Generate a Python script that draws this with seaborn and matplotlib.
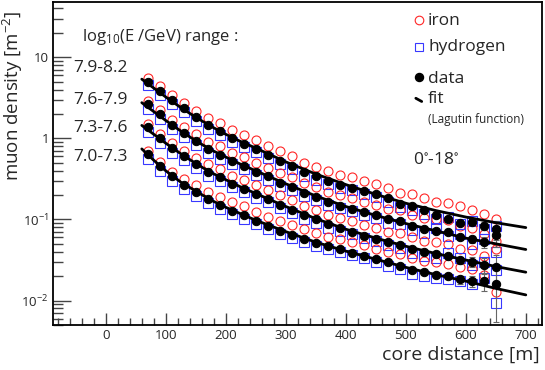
import numpy as np
import matplotlib
matplotlib.use("Agg")
import matplotlib.pyplot as plt
import seaborn as sns
from matplotlib.ticker import MultipleLocator, LogLocator, FixedLocator, FixedFormatter, NullFormatter

# === DONNEES (log10 de la densite de muons [m^-2]) ===
distance = [70, 90, 110, 130, 150, 170, 190, 210, 230, 250, 270, 290, 310, 330, 350,
            370, 390, 410, 430, 450, 470, 490, 510, 530, 550, 570, 590, 610, 630, 650]

log_data_79 = [0.70, 0.58, 0.47, 0.37, 0.26, 0.16, 0.09, 0.00, -0.07, -0.13, -0.20, -0.28, -0.34, -0.42, -0.47,
               -0.52, -0.58, -0.61, -0.65, -0.69, -0.74, -0.81, -0.83, -0.88, -0.95, -0.99, -1.04, -1.03, -1.08, -1.12]
log_iron_79 = [0.74, 0.64, 0.53, 0.44, 0.34, 0.25, 0.19, 0.10, 0.04, -0.02, -0.09, -0.16, -0.22, -0.30, -0.35,
               -0.40, -0.45, -0.48, -0.52, -0.56, -0.61, -0.67, -0.69, -0.74, -0.78, -0.80, -0.84, -0.88, -0.93, -1.00]
log_hydr_79 = [0.66, 0.54, 0.42, 0.32, 0.21, 0.11, 0.04, -0.04, -0.11, -0.17, -0.24, -0.32, -0.38, -0.46, -0.51,
               -0.56, -0.61, -0.64, -0.68, -0.72, -0.78, -0.85, -0.88, -0.93, -0.99, -0.97, -1.06, -1.02, -1.12, -1.08]

log_data_76 = [0.42, 0.30, 0.17, 0.07, -0.03, -0.13, -0.20, -0.28, -0.34, -0.41, -0.47, -0.55, -0.60, -0.67, -0.72,
               -0.78, -0.83, -0.87, -0.91, -0.95, -1.00, -1.02, -1.08, -1.12, -1.14, -1.16, -1.22, -1.24, -1.28, -1.19]
log_iron_76 = [0.46, 0.35, 0.23, 0.14, 0.05, -0.04, -0.10, -0.18, -0.23, -0.30, -0.36, -0.43, -0.48, -0.55, -0.60,
               -0.66, -0.70, -0.74, -0.78, -0.82, -0.87, -0.88, -0.94, -0.98, -0.99, -1.01, -1.08, -1.10, -1.18, -1.27]
log_hydr_76 = [0.36, 0.24, 0.11, 0.02, -0.08, -0.18, -0.25, -0.32, -0.38, -0.45, -0.51, -0.59, -0.64, -0.71, -0.76,
               -0.82, -0.86, -0.90, -0.94, -0.98, -1.04, -1.06, -1.13, -1.17, -1.10, -1.20, -1.18, -1.30, -1.24, -1.40]

log_data_73 = [0.14, 0.00, -0.12, -0.22, -0.32, -0.41, -0.48, -0.56, -0.62, -0.69, -0.75, -0.82, -0.88, -0.95, -1.00,
               -1.06, -1.11, -1.15, -1.20, -1.24, -1.28, -1.31, -1.36, -1.40, -1.43, -1.45, -1.50, -1.52, -1.56, -1.58]
log_iron_73 = [0.18, 0.05, -0.06, -0.15, -0.24, -0.32, -0.38, -0.46, -0.51, -0.58, -0.64, -0.70, -0.76, -0.83, -0.88,
               -0.94, -0.98, -1.02, -1.07, -1.11, -1.15, -1.17, -1.22, -1.26, -1.28, -1.30, -1.36, -1.38, -1.45, -1.37]
log_hydr_73 = [0.08, -0.06, -0.18, -0.27, -0.37, -0.46, -0.53, -0.60, -0.66, -0.73, -0.79, -0.86, -0.92, -0.99, -1.04,
               -1.10, -1.14, -1.18, -1.23, -1.27, -1.32, -1.35, -1.41, -1.45, -1.47, -1.41, -1.48, -1.56, -1.53, -1.62]

log_data_70 = [-0.19, -0.34, -0.47, -0.57, -0.66, -0.75, -0.82, -0.89, -0.95, -1.02, -1.08, -1.14, -1.19, -1.24, -1.29,
               -1.33, -1.37, -1.41, -1.45, -1.49, -1.53, -1.57, -1.62, -1.65, -1.68, -1.70, -1.74, -1.76, -1.76, -1.79]
log_iron_70 = [-0.15, -0.29, -0.41, -0.50, -0.58, -0.66, -0.72, -0.79, -0.84, -0.91, -0.97, -1.02, -1.07, -1.12, -1.17,
               -1.21, -1.24, -1.28, -1.32, -1.36, -1.40, -1.43, -1.48, -1.51, -1.53, -1.55, -1.59, -1.61, -1.68, -1.90]
log_hydr_70 = [-0.25, -0.40, -0.53, -0.62, -0.71, -0.80, -0.87, -0.93, -0.99, -1.06, -1.12, -1.18, -1.23, -1.28, -1.33,
               -1.36, -1.40, -1.44, -1.48, -1.52, -1.57, -1.61, -1.67, -1.70, -1.72, -1.73, -1.76, -1.79, -1.72, -2.03]

# courbes d'ajustement (fonction de Lagutin), log10
fit_distance = [60, 80, 100, 125, 150, 175, 200, 225, 250, 300, 350, 400, 450, 500, 550, 600, 650, 700]
fit_79 = [0.73, 0.62, 0.51, 0.38, 0.26, 0.15, 0.05, -0.04, -0.12, -0.29, -0.44, -0.57, -0.69, -0.80, -0.89, -0.97, -1.04, -1.10]
fit_76 = [0.44, 0.33, 0.22, 0.09, -0.03, -0.14, -0.23, -0.32, -0.40, -0.56, -0.71, -0.84, -0.95, -1.05, -1.14, -1.23, -1.30, -1.37]
fit_73 = [0.16, 0.05, -0.06, -0.19, -0.31, -0.42, -0.51, -0.60, -0.68, -0.84, -0.99, -1.12, -1.23, -1.33, -1.42, -1.50, -1.58, -1.65]
fit_70 = [-0.13, -0.27, -0.40, -0.54, -0.65, -0.76, -0.85, -0.93, -1.01, -1.15, -1.28, -1.39, -1.49, -1.59, -1.68, -1.76, -1.85, -1.93]

# erreurs relatives des derniers points
err_distance = [590, 610, 630, 650]
rel_err_79 = [0.06, 0.08, 0.12, 0.26]
rel_err_76 = [0.08, 0.10, 0.16, 0.30]
rel_err_73 = [0.10, 0.13, 0.20, 0.40]
rel_err_70 = [0.12, 0.16, 0.24, 0.66]

energy_labels = ["7.9-8.2", "7.6-7.9", "7.3-7.6", "7.0-7.3"]
series = [
    (log_data_79, log_iron_79, log_hydr_79, fit_79, rel_err_79),
    (log_data_76, log_iron_76, log_hydr_76, fit_76, rel_err_76),
    (log_data_73, log_iron_73, log_hydr_73, fit_73, rel_err_73),
    (log_data_70, log_iron_70, log_hydr_70, fit_70, rel_err_70),
]

RED = "#ff2626"
BLUE = "#3838ff"

# === FIGURE ===
sns.set_style("ticks")
plt.rcParams["font.family"] = ["Open Sans", "DejaVu Sans"]
plt.rcParams["mathtext.default"] = "regular"

fig = plt.figure(figsize=(5.45, 3.70), dpi=100)
ax = fig.add_axes([53 / 545, 45 / 370, 489 / 545, 323 / 370])
ax.set_yscale("log")

for d, fe, h, fit, err in series:
    dens = 10 ** np.array(d)
    sns.lineplot(x=distance, y=10 ** np.array(fe), ax=ax, color=RED, marker="o", linestyle="",
                 markerfacecolor="none", markeredgecolor=RED, markersize=6.5, markeredgewidth=0.8,
                 errorbar=None, zorder=2)
    sns.lineplot(x=distance, y=10 ** np.array(h), ax=ax, color=BLUE, marker="s", linestyle="",
                 markerfacecolor="none", markeredgecolor=BLUE, markersize=6.6, markeredgewidth=0.8,
                 errorbar=None, zorder=2)
    tail = dens[-len(err_distance):]
    ax.errorbar(err_distance, tail, yerr=tail * np.array(err), fmt="none", ecolor="#666666",
                elinewidth=0.8, capsize=2, capthick=0.8, zorder=2.5)
    sns.lineplot(x=fit_distance, y=10 ** np.array(fit), ax=ax, color="black", linewidth=2.0,
                 errorbar=None, zorder=3)
    sns.lineplot(x=distance, y=dens, ax=ax, color="black", marker="o", linestyle="",
                 markerfacecolor="black", markeredgecolor="black", markersize=6.0,
                 errorbar=None, zorder=4)

ax.set_xlim(-88, 727)
ax.set_ylim(0.005, 48)

# axes style (ROOT-like)
for sp in ax.spines.values():
    sp.set_linewidth(1.3)
    sp.set_color("black")
ax.xaxis.set_major_locator(MultipleLocator(100))
ax.xaxis.set_minor_locator(MultipleLocator(20))
ax.yaxis.set_major_locator(FixedLocator([0.01, 0.1, 1, 10]))
ax.yaxis.set_major_formatter(FixedFormatter(["$10^{-2}$", "$10^{-1}$", "1", "10"]))
ax.yaxis.set_minor_locator(LogLocator(base=10, subs=np.arange(2, 10)))
ax.yaxis.set_minor_formatter(NullFormatter())
ax.tick_params(axis="both", which="both", direction="in", top=False, right=False,
               color="#444444", width=1.0, labelsize=9.5, pad=3)
ax.tick_params(axis="x", which="major", length=9)
ax.tick_params(axis="x", which="minor", length=5)
ax.tick_params(axis="y", which="major", length=13)
ax.tick_params(axis="y", which="minor", length=7)

ax.set_ylabel("muon density [m$^{-2}$]", fontsize=13.5)
ax.yaxis.set_label_coords(-0.057, 0.71)
ax.set_xlabel("core distance [m]", fontsize=14, ha="right", va="center")
ax.xaxis.set_label_coords(0.996, -0.093)

# texte energie
ax.text(0.059, 0.892, "log$_{10}$(E /GeV) range :", transform=ax.transAxes, fontsize=12,
        ha="left", va="center")
for lab, fy in zip(energy_labels, [0.796, 0.697, 0.610, 0.520]):
    ax.text(0.041, fy, lab, transform=ax.transAxes, fontsize=12.5, ha="left", va="center")

# legende
kx, tx = 0.748, 0.767
ax.plot([kx], [0.944], transform=ax.transAxes, marker="o", mfc="none", mec=RED, ms=6.2, mew=0.8)
ax.text(tx, 0.940, "iron", transform=ax.transAxes, fontsize=12.5, va="center")
ax.plot([kx], [0.861], transform=ax.transAxes, marker="s", mfc="none", mec=BLUE, ms=6.4, mew=0.8)
ax.text(tx, 0.861, "hydrogen", transform=ax.transAxes, fontsize=12.5, va="center")
ax.plot([kx], [0.768], transform=ax.transAxes, marker="o", mfc="black", mec="black", ms=5.8)
ax.text(tx, 0.762, "data", transform=ax.transAxes, fontsize=12.5, va="center")
ax.plot([kx - 0.006, kx + 0.006], [0.702, 0.692], transform=ax.transAxes, color="black", lw=2.0)
ax.text(tx, 0.700, "fit", transform=ax.transAxes, fontsize=12.5, va="center")
ax.text(tx, 0.635, "(Lagutin function)", transform=ax.transAxes, fontsize=8.5, va="center")
ax.text(0.736, 0.510, "0$^{\\circ}$-18$^{\\circ}$", transform=ax.transAxes, fontsize=12.5, va="center")

fig.savefig("out.png", dpi=100)
